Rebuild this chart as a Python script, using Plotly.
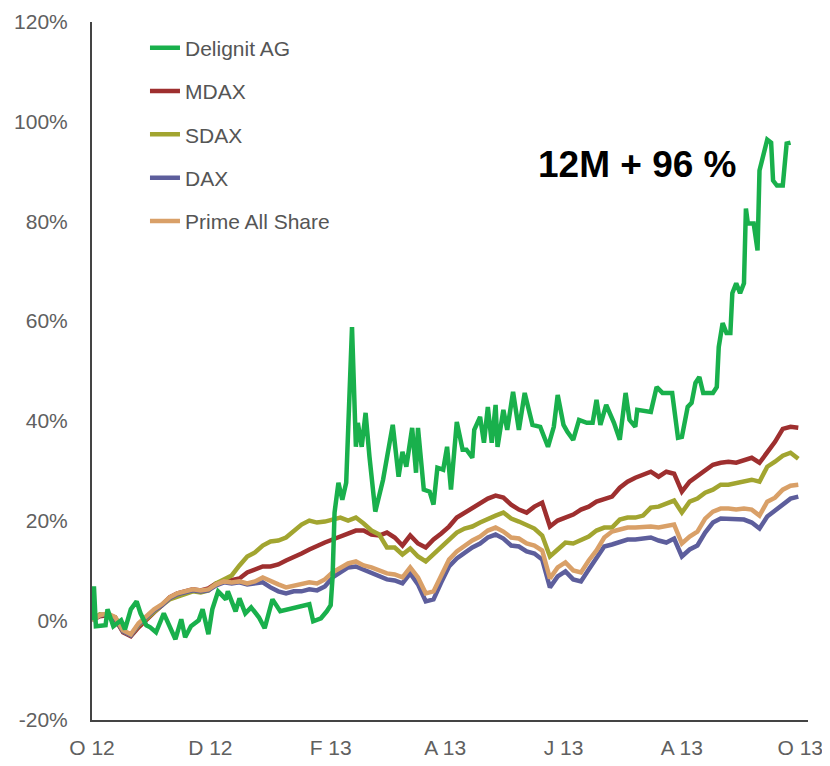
import pandas as pd
import plotly.graph_objects as go

START = pd.Timestamp("2012-10-01")

# ---- Data (percent change since 1 Oct 2012) ----
index_days = list(range(0, 365, 4))  # observation days since start (every 4 days)

sdax = [0, 1.2, 1.0, 0.6, -2.2, -3.0, -1.0, 0.4, 1.8, 3.0, 4.2, 4.8, 5.4, 5.8, 5.6, 6.0, 7.4, 8.2,
        9.0, 11.0, 12.8, 13.6, 15.0, 15.8, 16.0, 16.6, 17.8, 19.2,
        20.0, 19.6, 19.8, 20.2, 20.6, 20.0, 20.6, 19.4, 18.0, 17.2,
        14.6, 14.6, 13.2, 14.4, 12.8, 11.8, 13.2, 14.8, 16.0, 17.6,
        18.4, 18.8, 19.6, 20.4, 21.0, 21.6, 20.4, 19.8, 19.0, 18.4,
        17.0, 12.8, 14.2, 15.6, 15.4, 16.2, 16.8, 18.0, 18.6, 18.6,
        20.2, 20.6, 20.6, 21.0, 22.6, 22.8, 23.4, 24.0, 21.6, 23.8,
        24.4, 25.6, 26.2, 27.2, 27.2, 27.6, 28.0, 28.2, 27.8, 30.8,
        31.8, 33.0, 33.6, 32.4]

mdax = [0, 0.8, 1.0, 0.2, -2.4, -3.2, -1.4, 0.2, 1.6, 3.0, 4.6, 5.4, 5.8, 6.2, 6.0, 6.4, 7.4, 7.8,
        8.0, 8.4, 9.6, 10.2, 10.8, 10.8, 11.2, 12.0, 12.6, 13.4,
        14.2, 15.0, 15.6, 16.2, 16.8, 17.4, 18.0, 18.0, 17.2, 17.0,
        17.6, 16.6, 15.0, 17.0, 15.4, 14.6, 16.2, 17.4, 18.8, 20.6,
        21.6, 22.6, 23.4, 24.4, 25.0, 24.6, 23.2, 22.2, 21.6, 22.8,
        23.6, 18.8, 20.0, 20.6, 21.2, 22.2, 22.8, 23.8, 24.4, 24.8,
        26.6, 27.8, 28.6, 29.2, 29.8, 28.8, 29.8, 29.4, 25.8, 27.8,
        29.0, 30.2, 31.2, 31.6, 31.8, 31.6, 32.0, 32.6, 31.6, 33.8,
        35.8, 38.4, 38.8, 38.6]

prime = [0, 1.0, 1.4, 0.6, -2.0, -2.8, -0.6, 0.8, 2.2, 3.2, 4.6, 5.4, 5.8, 6.2, 6.0, 6.2, 7.2, 7.8,
         7.6, 7.8, 7.4, 7.8, 8.6, 7.8, 7.2, 6.6, 7.0, 7.2,
         7.6, 7.4, 8.2, 9.6, 10.6, 11.4, 11.8, 11.0, 10.6, 10.0,
         9.4, 9.2, 8.6, 10.6, 8.6, 5.4, 5.8, 9.0, 12.2, 13.8,
         15.0, 16.0, 16.8, 18.0, 18.6, 17.8, 16.6, 16.4, 15.4, 15.0,
         14.0, 8.4, 10.6, 11.6, 10.0, 9.6, 12.0, 14.0, 16.6, 17.8,
         18.2, 18.6, 18.6, 18.8, 18.8, 18.6, 18.8, 19.2, 15.4, 16.8,
         17.8, 20.4, 21.8, 22.4, 22.4, 22.2, 22.4, 22.2, 21.0, 23.8,
         24.6, 26.2, 27.0, 27.2]

dax = [0, 1.0, 1.2, 0.4, -2.2, -3.0, -0.8, 0.6, 2.0, 3.0, 4.4, 5.2, 5.6, 6.0, 5.8, 6.0, 7.0, 7.6,
       7.4, 7.6, 7.2, 7.4, 7.6, 6.6, 5.8, 5.4, 5.8, 5.8,
       6.2, 6.0, 6.8, 8.6, 9.6, 10.6, 10.8, 10.2, 9.6, 9.0,
       8.2, 8.0, 7.4, 9.4, 7.2, 3.8, 4.2, 7.6, 10.8, 12.4,
       13.6, 14.6, 15.4, 16.6, 17.2, 16.4, 15.0, 14.8, 13.8, 13.4,
       12.2, 6.6, 8.8, 9.8, 8.2, 7.8, 10.2, 12.4, 14.8, 15.2,
       15.6, 16.2, 16.2, 16.4, 16.6, 16.0, 15.6, 16.4, 12.8, 14.2,
       15.0, 17.6, 19.6, 20.4, 20.4, 20.2, 20.2, 19.6, 18.4, 20.8,
       22.0, 23.4, 24.4, 24.8]

delignit_days = [0, 1, 2, 7, 8, 11, 15, 17, 20, 23,
                 25, 28, 30, 33, 37, 39, 43, 46, 48, 51,
                 55, 57, 60, 62, 65, 66, 69, 70, 74, 76,
                 79, 82, 86, 89, 93, 97, 102, 107, 112, 114,
                 118, 121, 123, 124, 125, 127, 129, 131, 134, 136,
                 137, 139, 141, 143, 146, 150, 155, 158, 160, 162,
                 165, 167, 168, 171, 174, 176, 178, 181, 183, 185,
                 188, 191, 193, 196, 197, 200, 202, 204, 206, 208,
                 209, 212, 214, 217, 220, 223, 227, 231, 235, 238,
                 240, 243, 245, 248, 251, 255, 258, 260, 262, 265,
                 269, 272, 275, 277, 280, 281, 288, 291, 294, 299,
                 301, 302, 304, 307, 309, 311, 313, 315, 320, 322,
                 323, 325, 327, 329, 330, 332, 334, 336, 337, 338,
                 341, 343, 344, 346, 348, 350, 351, 353, 356, 358,
                 360]

delignit = [0, 6.8, -1.2, -1.0, 2.2, -1.2, 0, -1.8, 2.2, 3.8,
            1.4, -1.0, -1.4, -2.4, 1.4, -0.2, -3.8, 0.2, -3.4, -1.2,
            0, 2.2, -2.8, 2.2, 5.8, 5.4, 4.2, 5.8, 1.8, 4.4,
            1.4, 2.6, 0.6, -1.6, 4.2, 1.8, 2.2, 2.6, 3.2, -0.2,
            0.4, 1.8, 3.0, 8.8, 21.6, 27.6, 24.2, 27.6, 58.8, 34.8,
            39.6, 34.8, 41.6, 32.8, 21.8, 28.2, 39.2, 28.8, 33.8, 30.8,
            38.6, 29.6, 38.6, 26.2, 25.8, 23.2, 30.6, 30.2, 34.8, 26.2,
            39.8, 34.2, 34.2, 32.6, 38.2, 40.8, 35.6, 42.8, 35.6, 43.2,
            34.8, 42.2, 38.2, 45.8, 38.2, 45.6, 39.2, 38.8, 34.8, 38.8,
            45.2, 39.2, 37.8, 36.2, 40.2, 39.6, 39.6, 44.2, 39.2, 43.2,
            39.6, 36.2, 45.6, 40.2, 38.8, 42.2, 41.8, 46.8, 45.6, 45.6,
            40.2, 36.6, 36.8, 42.8, 43.6, 47.6, 48.8, 45.6, 45.6, 46.8,
            54.8, 59.6, 57.6, 57.6, 65.6, 67.6, 65.6, 67.6, 82.6, 79.6,
            79.6, 74.2, 90.2, 93.4, 96.4, 95.8, 88.2, 87.2, 87.2, 95.6,
            95.8]

tick_dates = ["2012-10-01", "2012-12-01", "2013-02-01", "2013-04-01",
              "2013-06-01", "2013-08-01", "2013-10-01"]
tick_labels = ["O 12", "D 12", "F 13", "A 13", "J 13", "A 13", "O 13"]
y_ticks = [-20, 0, 20, 40, 60, 80, 100, 120]
y_labels = ["-20%", "0%", "20%", "40%", "60%", "80%", "100%", "120%"]

annotation_text = "12M + 96 %"

# ---- Build ----
index_dates = [START + pd.Timedelta(days=d) for d in index_days]
delignit_dates = [START + pd.Timedelta(days=d) for d in delignit_days]

FONT = "Liberation Sans, Arial, sans-serif"

series = [
    # name, x, y, color, legend rank  (drawn in this order)
    ("MDAX", index_dates, mdax, "#9e2f2f", 2),
    ("SDAX", index_dates, sdax, "#a2a530", 3),
    ("DAX", index_dates, dax, "#5d5e9c", 4),
    ("Prime All Share", index_dates, prime, "#d9a068", 5),
    ("Delignit AG", delignit_dates, delignit, "#19b04c", 1),
]

fig = go.Figure()
for name, xs, ys, color, rank in series:
    fig.add_trace(go.Scatter(
        x=xs, y=ys, name=name, mode="lines",
        line=dict(color=color, width=4.5),
        legendrank=rank, legendgroup=name,
    ))

# page body has an 8px default margin, so the figure is 8px smaller
fig.update_layout(
    width=822, height=758,
    margin=dict(l=84, r=22, t=14, b=46, autoexpand=False),
    paper_bgcolor="white", plot_bgcolor="white",
    font=dict(family=FONT, size=21, color="#606060"),
    showlegend=True,
    legend=dict(
        x=0.074, y=0.992, xanchor="left", yanchor="top",
        bgcolor="rgba(0,0,0,0)", borderwidth=0,
        font=dict(family=FONT, size=21, color="#555555"),
        tracegroupgap=13, itemwidth=30,
    ),
    xaxis=dict(
        type="date", automargin=False,
        range=["2012-10-01", "2013-10-05"],
        tickvals=tick_dates, ticktext=tick_labels,
        showgrid=False, zeroline=False,
        showline=True, linecolor="#444444", linewidth=2,
        ticks="outside", ticklen=8, tickcolor="rgba(0,0,0,0)",
        tickfont=dict(family=FONT, size=21, color="#606060"),
    ),
    yaxis=dict(
        automargin=False,
        range=[-20, 120],
        tickvals=y_ticks, ticktext=y_labels,
        showgrid=False, zeroline=False,
        showline=True, linecolor="#444444", linewidth=2,
        ticks="outside", ticklen=18, tickcolor="rgba(0,0,0,0)",
        tickfont=dict(family=FONT, size=21, color="#606060"),
    ),
    annotations=[dict(
        text=annotation_text, xref="paper", yref="paper",
        x=0.761, y=0.796, xanchor="center", yanchor="middle",
        showarrow=False,
        font=dict(family="Liberation Sans, Arial, sans-serif", size=37, color="black", weight="bold"),
    )],
)

fig.write_html("out.html")
